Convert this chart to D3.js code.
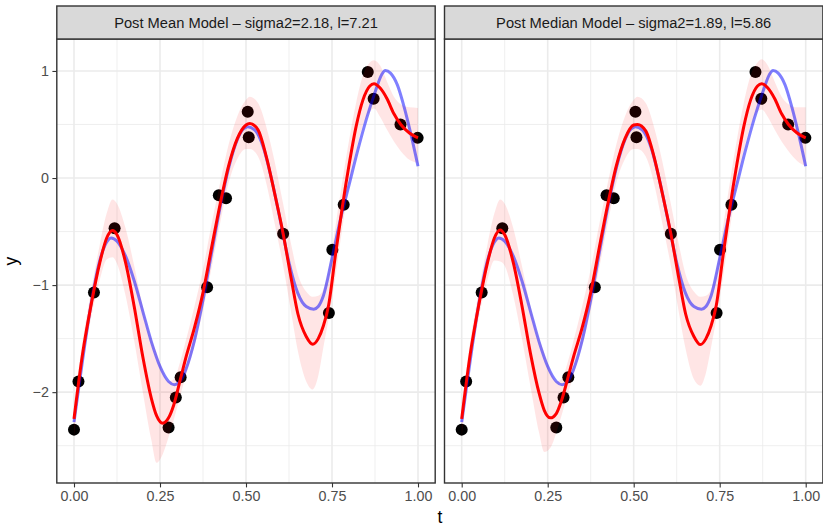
<!DOCTYPE html>
<html>
<head>
<meta charset="utf-8">
<script src="https://cdn.jsdelivr.net/npm/d3@7"></script>
<style>
  body { margin: 0; background: #fff; }
  text { font-family: "Liberation Sans", Arial, sans-serif; }
</style>
</head>
<body>
<svg id="chart" width="823" height="526"></svg>
<script>
// observed points (same in both facets)
const tObs = [0.000, 0.013, 0.058, 0.118, 0.275, 0.296, 0.310, 0.387, 0.421, 0.442,
              0.505, 0.508, 0.608, 0.741, 0.751, 0.784, 0.854, 0.871, 0.949, 0.999];
const yObs = [-2.35, -1.90, -1.07, -0.47, -2.33, -2.05, -1.86, -1.02, -0.16, -0.19,
              0.62, 0.38, -0.52, -1.26, -0.67, -0.25, 0.99, 0.74, 0.50, 0.375];

// true function (blue)
const tTrue = [0, 0.025, 0.05, 0.075, 0.1, 0.108, 0.125, 0.15, 0.175, 0.2, 0.225, 0.25, 0.275, 0.292,
               0.31, 0.325, 0.35, 0.375, 0.4, 0.425, 0.45, 0.475, 0.49, 0.505, 0.525, 0.55, 0.575,
               0.6, 0.625, 0.65, 0.675, 0.697, 0.71, 0.725, 0.75, 0.775, 0.8, 0.825, 0.85, 0.875,
               0.895, 0.905, 0.92, 0.94, 0.96, 0.98, 1];
const yTrue = [-2.28, -1.70, -1.17, -0.77, -0.575, -0.56, -0.59, -0.73, -0.96, -1.245, -1.53, -1.76, -1.90, -1.93,
               -1.89, -1.79, -1.52, -1.14, -0.70, -0.27, 0.10, 0.36, 0.45, 0.48, 0.45, 0.29, -0.02,
               -0.40, -0.79, -1.07, -1.20, -1.225, -1.20, -1.10, -0.75, -0.38, -0.06, 0.26, 0.55, 0.80,
               0.97, 1.005, 0.98, 0.87, 0.66, 0.40, 0.11];

// posterior fits (red) and bands, shared t grid
const tFit = [0, 0.025, 0.05, 0.075, 0.095, 0.112, 0.125, 0.15, 0.175, 0.2, 0.225, 0.24, 0.258, 0.275,
              0.29, 0.31, 0.325, 0.35, 0.375, 0.4, 0.425, 0.45, 0.475, 0.5, 0.511, 0.535, 0.559, 0.583,
              0.608, 0.632, 0.651, 0.675, 0.694, 0.71, 0.725, 0.74, 0.76, 0.78, 0.8, 0.82, 0.84, 0.86,
              0.872, 0.89, 0.91, 0.93, 0.95, 0.975, 1];

const meanFit = [-2.25, -1.64, -1.18, -0.79, -0.56, -0.49, -0.53, -0.79, -1.20, -1.67, -2.06, -2.22, -2.29, -2.24,
                 -2.12, -1.87, -1.68, -1.40, -1.07, -0.65, -0.24, 0.12, 0.37, 0.495, 0.51, 0.45, 0.20, -0.14,
                 -0.52, -0.95, -1.27, -1.48, -1.553, -1.50, -1.38, -1.19, -0.72, -0.27, 0.13, 0.48, 0.73, 0.86,
                 0.88, 0.84, 0.74, 0.60, 0.50, 0.42, 0.375];
const meanLo = [-2.42, -1.76, -1.30, -0.95, -0.76, -0.74, -0.80, -1.10, -1.52, -2.00, -2.45, -2.66, -2.58, -2.42,
                -2.26, -2.02, -1.85, -1.57, -1.24, -0.84, -0.42, -0.04, 0.18, 0.27, 0.27, 0.20, -0.05, -0.42,
                -0.82, -1.27, -1.62, -1.90, -1.975, -1.85, -1.58, -1.32, -0.92, -0.47, -0.07, 0.25, 0.49, 0.62,
                0.65, 0.57, 0.45, 0.34, 0.25, 0.17, 0.14];
const meanHi = [-2.10, -1.52, -1.05, -0.62, -0.33, -0.20, -0.24, -0.47, -0.82, -1.20, -1.50, -1.63, -1.80, -1.90,
                -1.88, -1.70, -1.52, -1.20, -0.85, -0.43, -0.04, 0.32, 0.58, 0.73, 0.76, 0.70, 0.48, 0.16,
                -0.24, -0.63, -0.90, -1.06, -1.11, -1.10, -1.04, -0.86, -0.45, -0.03, 0.36, 0.70, 0.96, 1.08,
                1.10, 1.05, 0.90, 0.76, 0.69, 0.66, 0.655];

const medianFit = [-2.25, -1.64, -1.18, -0.79, -0.56, -0.485, -0.53, -0.79, -1.19, -1.64, -2.01, -2.17, -2.24, -2.20,
                   -2.08, -1.85, -1.67, -1.40, -1.07, -0.65, -0.24, 0.12, 0.37, 0.495, 0.50, 0.44, 0.20, -0.14,
                   -0.52, -0.95, -1.27, -1.48, -1.556, -1.50, -1.38, -1.19, -0.72, -0.27, 0.13, 0.48, 0.73, 0.86,
                   0.88, 0.84, 0.74, 0.60, 0.50, 0.42, 0.375];
const medianLo = [-2.42, -1.76, -1.30, -0.95, -0.77, -0.78, -0.82, -1.10, -1.50, -1.95, -2.38, -2.56, -2.52, -2.38,
                  -2.22, -2.00, -1.84, -1.57, -1.24, -0.84, -0.42, -0.04, 0.18, 0.27, 0.27, 0.20, -0.05, -0.42,
                  -0.82, -1.27, -1.60, -1.88, -1.94, -1.82, -1.58, -1.32, -0.92, -0.47, -0.07, 0.25, 0.49, 0.62,
                  0.64, 0.57, 0.45, 0.34, 0.25, 0.16, 0.11];
const medianHi = [-2.10, -1.52, -1.05, -0.62, -0.33, -0.20, -0.24, -0.47, -0.82, -1.20, -1.50, -1.63, -1.80, -1.90,
                  -1.88, -1.70, -1.52, -1.20, -0.85, -0.43, -0.04, 0.32, 0.58, 0.73, 0.76, 0.70, 0.48, 0.16,
                  -0.24, -0.63, -0.90, -1.06, -1.11, -1.10, -1.04, -0.86, -0.45, -0.03, 0.36, 0.70, 0.96, 1.08,
                  1.11, 1.05, 0.90, 0.76, 0.69, 0.66, 0.66];

const stripLabels = ['Post Mean Model \u2013 sigma2=2.18, l=7.21', 'Post Median Model \u2013 sigma2=1.89, l=5.86'];
const xTicks = [0, 0.25, 0.5, 0.75, 1];
const xMinor = [0.125, 0.375, 0.625, 0.875];
const yTicks = [-2, -1, 0, 1];
const yMinor = [-2.5, -1.5, -0.5, 0.5];

const panels = [
  {label: stripLabels[0], fit: meanFit, lo: meanLo, hi: meanHi, left: 56.8},
  {label: stripLabels[1], fit: medianFit, lo: medianLo, hi: medianHi, left: 444.5}
];

const svg = d3.select('#chart');
const panelW = 378.4;
const panelTop = 39, panelBottom = 483, stripTop = 6;

// shared y scale, ggplot style 5% expansion
const allY = [].concat(yObs, yTrue, meanLo, meanHi, medianLo, medianHi);
const yMin = d3.min(allY), yMax = d3.max(allY);
const yPad = (yMax - yMin) * 0.05;
const y = d3.scaleLinear().domain([yMin - yPad, yMax + yPad]).range([panelBottom, panelTop]);

const obs = tObs.map((t, i) => ({t: t, v: yObs[i]}));
const truth = tTrue.map((t, i) => ({t: t, v: yTrue[i]}));

panels.forEach((p, k) => {
  const x = d3.scaleLinear().domain([-0.05, 1.05]).range([p.left, p.left + panelW]);
  const g = svg.append('g');
  const clipId = 'clip' + k;
  svg.append('clipPath').attr('id', clipId)
    .append('rect').attr('x', p.left).attr('y', panelTop).attr('width', panelW).attr('height', panelBottom - panelTop);

  // grid
  g.selectAll('.xminor').data(xMinor).enter().append('line')
    .attr('x1', d => x(d)).attr('x2', d => x(d)).attr('y1', panelTop).attr('y2', panelBottom)
    .attr('stroke', '#ebebeb').attr('stroke-width', 0.8);
  g.selectAll('.yminor').data(yMinor).enter().append('line')
    .attr('x1', p.left).attr('x2', p.left + panelW).attr('y1', d => y(d)).attr('y2', d => y(d))
    .attr('stroke', '#ebebeb').attr('stroke-width', 0.8);
  g.selectAll('.xmajor').data(xTicks).enter().append('line')
    .attr('x1', d => x(d)).attr('x2', d => x(d)).attr('y1', panelTop).attr('y2', panelBottom)
    .attr('stroke', '#ebebeb').attr('stroke-width', 1.6);
  g.selectAll('.ymajor').data(yTicks).enter().append('line')
    .attr('x1', p.left).attr('x2', p.left + panelW).attr('y1', d => y(d)).attr('y2', d => y(d))
    .attr('stroke', '#ebebeb').attr('stroke-width', 1.6);

  const fitData = tFit.map((t, i) => ({t: t, v: p.fit[i], lo: p.lo[i], hi: p.hi[i]}));
  const plot = g.append('g').attr('clip-path', 'url(#' + clipId + ')');

  plot.selectAll('circle').data(obs).enter().append('circle')
    .attr('cx', d => x(d.t)).attr('cy', d => y(d.v)).attr('r', 6)
    .attr('fill', '#000');

  const band = d3.area().curve(d3.curveMonotoneX)
    .x(d => x(d.t)).y0(d => y(d.lo)).y1(d => y(d.hi));
  plot.append('path').datum(fitData).attr('d', band)
    .attr('fill', 'red').attr('fill-opacity', 0.1);

  const line = d3.line().curve(d3.curveMonotoneX).x(d => x(d.t)).y(d => y(d.v));
  plot.append('path').datum(truth).attr('d', line)
    .attr('fill', 'none').attr('stroke', 'blue').attr('stroke-opacity', 0.5).attr('stroke-width', 3);
  plot.append('path').datum(fitData).attr('d', line)
    .attr('fill', 'none').attr('stroke', 'red').attr('stroke-width', 3);

  // panel border
  g.append('rect').attr('x', p.left).attr('y', panelTop).attr('width', panelW).attr('height', panelBottom - panelTop)
    .attr('fill', 'none').attr('stroke', '#333333').attr('stroke-width', 1.4);

  // strip
  g.append('rect').attr('x', p.left).attr('y', stripTop).attr('width', panelW).attr('height', panelTop - stripTop)
    .attr('fill', '#d9d9d9').attr('stroke', '#333333').attr('stroke-width', 1.4);
  g.append('text').attr('x', p.left + panelW / 2).attr('y', (stripTop + panelTop) / 2 + 5)
    .attr('text-anchor', 'middle').attr('font-size', 14.7).attr('fill', '#1a1a1a')
    .text(p.label);

  // x axis
  const xAxis = g.append('g').attr('transform', 'translate(0,' + panelBottom + ')')
    .call(d3.axisBottom(x).tickValues(xTicks).tickFormat(d3.format('.2f')).tickSize(4.4).tickPadding(3.5));
  xAxis.select('.domain').remove();
  xAxis.selectAll('line').attr('stroke', '#333333').attr('stroke-width', 1.1);
  xAxis.selectAll('text').attr('font-size', 14.3).attr('fill', '#4d4d4d')
    .attr('font-family', '"Liberation Sans", Arial, sans-serif');

  if (k === 0) {
    const yAxis = g.append('g').attr('transform', 'translate(' + p.left + ',0)')
      .call(d3.axisLeft(y).tickValues(yTicks).tickFormat(d3.format('d')).tickSize(4.4).tickPadding(3.5));
    yAxis.select('.domain').remove();
    yAxis.selectAll('line').attr('stroke', '#333333').attr('stroke-width', 1.1);
    yAxis.selectAll('text').attr('font-size', 14.3).attr('fill', '#4d4d4d')
      .attr('font-family', '"Liberation Sans", Arial, sans-serif');
  }
});

// axis titles
svg.append('text').attr('x', (56.8 + 444.5 + panelW) / 2).attr('y', 523)
  .attr('text-anchor', 'middle').attr('font-size', 17.5).attr('fill', '#000').text('t');
svg.append('text').attr('transform', 'translate(17,' + (panelTop + panelBottom) / 2 + ') rotate(-90)')
  .attr('text-anchor', 'middle').attr('font-size', 17.5).attr('fill', '#000').text('y');
</script>
</body>
</html>
